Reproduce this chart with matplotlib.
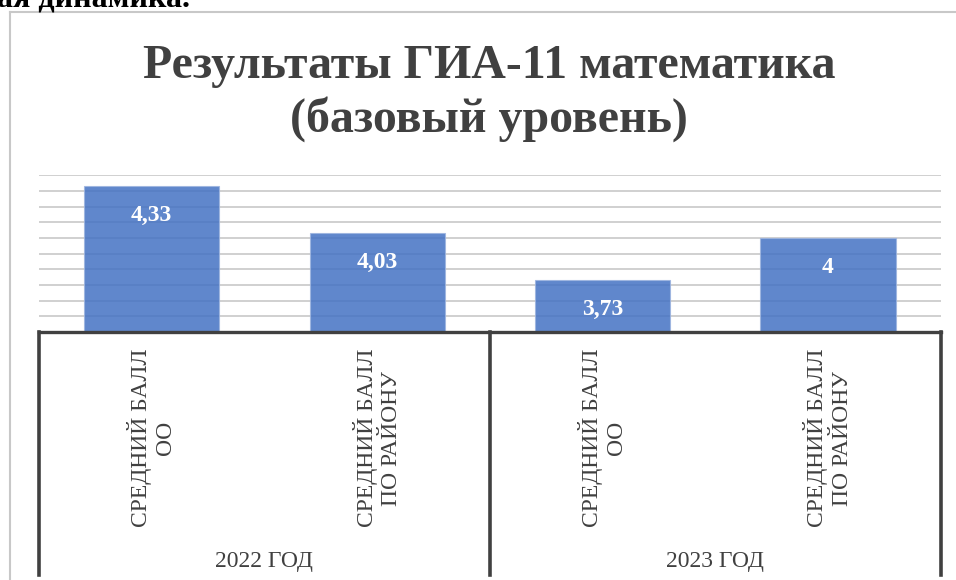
import matplotlib.pyplot as plt
from matplotlib.lines import Line2D

plt.rcParams['font.family'] = ['Liberation Serif', 'DejaVu Serif']

# Данные
categories = ['СРЕДНИЙ БАЛЛ\nОО', 'СРЕДНИЙ БАЛЛ\nПО РАЙОНУ',
              'СРЕДНИЙ БАЛЛ\nОО', 'СРЕДНИЙ БАЛЛ\nПО РАЙОНУ']
values = [4.33, 4.03, 3.73, 4.0]
groups = ['2022 ГОД', '2023 ГОД']
group_size = 2
title_lines = ['Результаты ГИА-11 математика', '(базовый уровень)']

W, H = 956, 580
dark = '#404040'

fig = plt.figure(figsize=(W / 100, H / 100), dpi=100)

# пиксели -> координаты фигуры
def fx(px):
    return px / W

def fy(py):
    return 1 - py / H

# обрезанный текст над диаграммой
fig.text(fx(-3), fy(6), 'ая динамика.', fontsize=23, fontweight='bold',
         color='black', ha='left', va='baseline')

# рамка диаграммы (видны только левая и верхняя стороны)
fig.add_artist(Line2D([fx(10), fx(10)], [fy(12), fy(600)], color='#c8c8c8', lw=1.5))
fig.add_artist(Line2D([fx(10), fx(1000)], [fy(12), fy(12)], color='#c8c8c8', lw=1.5))

# заголовок
fig.text(fx(489), fy(78), title_lines[0], fontsize=34.5, fontweight='bold',
         color=dark, ha='center', va='baseline')
fig.text(fx(489), fy(132), title_lines[1], fontsize=34.5, fontweight='bold',
         color=dark, ha='center', va='baseline')

left, right, axis_y, top_y = 39, 940.7, 332, 175.3

# область построения
ax = fig.add_axes([fx(left), fy(axis_y), fx(right - left), (axis_y - top_y) / H])
x = list(range(len(values)))
bars = ax.bar(x, values, width=0.6, color='#4472C4', alpha=0.85,
              edgecolor='#9db4e0', linewidth=0.8, zorder=2)
ax.set_xlim(-0.5, len(values) - 0.5)
ax.set_ylim(3.4, 4.4)
ax.set_yticks([3.4 + 0.1 * i for i in range(11)])
ax.yaxis.grid(True, color='#c8c8c8', lw=1.2, zorder=0)
ax.set_axisbelow(True)
ax.tick_params(left=False, bottom=False, labelleft=False, labelbottom=False)
for s in ['top', 'right', 'left', 'bottom']:
    ax.spines[s].set_visible(False)

for xi, v in zip(x, values):
    ax.annotate(f'{v:g}'.replace('.', ','), (xi, v), xytext=(0, -21),
                textcoords='offset points', ha='center', va='center',
                fontsize=17, fontweight='bold', color='white', zorder=3)

# многоуровневая ось категорий
cax = fig.add_axes([fx(left), 0, fx(right - left), (H - axis_y) / H])
cax.set_xlim(-0.5, len(values) - 0.5)
cax.set_ylim(H, axis_y)
cax.axis('off')
cax.plot([-0.5, len(values) - 0.5], [axis_y, axis_y], color=dark, lw=2.4,
         solid_capstyle='projecting', clip_on=False)
for b in range(0, len(values) + 1, group_size):
    cax.plot([b - 0.5, b - 0.5], [axis_y, 575], color=dark, lw=2.6, clip_on=False)

for xi, lab in zip(x, categories):
    cax.text(xi, 349, lab, rotation=90, ha='center', va='top',
             multialignment='center', fontsize=17, color=dark, linespacing=1.2)

for gi, g in enumerate(groups):
    gx = gi * group_size + (group_size - 1) / 2
    cax.text(gx, 561, g, ha='center', va='center', fontsize=17, color=dark)

plt.savefig('out.png', dpi=100)
